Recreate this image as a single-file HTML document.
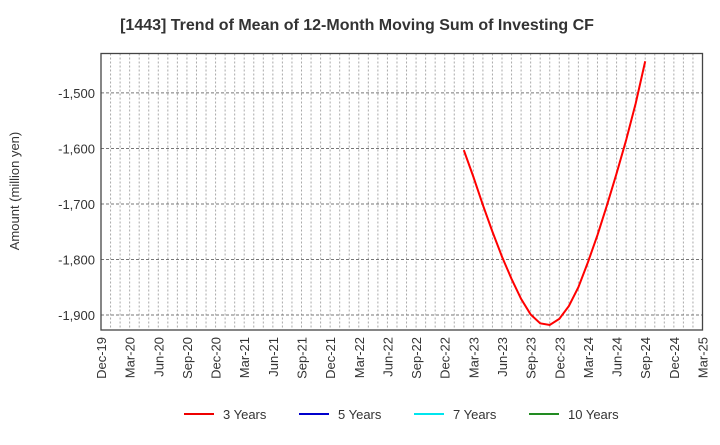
<!DOCTYPE html>
<html><head><meta charset="utf-8"><style>
body{margin:0;background:#fff;font-family:"Liberation Sans",sans-serif}
</style></head><body>
<svg id="chart" width="720" height="440" xmlns="http://www.w3.org/2000/svg" font-family="Liberation Sans, sans-serif">
<text x="357" y="30" text-anchor="middle" font-size="16" font-weight="bold" fill="#333">[1443]  Trend of Mean of 12-Month Moving Sum of Investing CF</text>
<text transform="translate(19,191) rotate(-90)" text-anchor="middle" font-size="13" fill="#333">Amount (million yen)</text>
<g id="grid"></g>
<g id="yticks"></g>
<g id="xticks"></g>
<rect x="101" y="53.5" width="601.5" height="276.5" fill="none" stroke="#444" stroke-width="1.3"/>
<g id="series"></g>
<g font-size="13" fill="#333">
<line x1="184" y1="414" x2="214" y2="414" stroke="#e00" stroke-width="2"/><text x="223" y="419">3 Years</text>
<line x1="299" y1="414" x2="329" y2="414" stroke="#0000cc" stroke-width="2"/><text x="338" y="419">5 Years</text>
<line x1="414" y1="414" x2="444" y2="414" stroke="#00e5ee" stroke-width="2"/><text x="453" y="419">7 Years</text>
<line x1="529" y1="414" x2="559" y2="414" stroke="#228b22" stroke-width="2"/><text x="568" y="419">10 Years</text>
</g>
</svg>
<script>
const xLabels=["Dec-19","Mar-20","Jun-20","Sep-20","Dec-20","Mar-21","Jun-21","Sep-21","Dec-21","Mar-22","Jun-22","Sep-22","Dec-22","Mar-23","Jun-23","Sep-23","Dec-23","Mar-24","Jun-24","Sep-24","Dec-24","Mar-25"];
const yTicks=[-1500,-1600,-1700,-1800,-1900];
const startMonth=38; // Feb-23, months after Dec-19
const values3=[-1603,-1651,-1702,-1750,-1795,-1835,-1871,-1899,-1915,-1918,-1907,-1884,-1850,-1805,-1756,-1702,-1645,-1585,-1519,-1443];
const NS="http://www.w3.org/2000/svg";
const X0=101,X1=702.5,Y0=53.5,Y1=330,YMAX=-1429,YMIN=-1927,MONTHS=63;
const xs=m=>X0+(X1-X0)*m/MONTHS;
const ys=v=>Y0+(YMAX-v)/(YMAX-YMIN)*(Y1-Y0);
function mk(t,a,p){const e=document.createElementNS(NS,t);for(const k in a)e.setAttribute(k,a[k]);p.appendChild(e);return e;}
const grid=document.getElementById('grid');
for(let m=1;m<MONTHS;m++){
 const l=mk('line',{x1:xs(m),x2:xs(m),y1:Y0,y2:Y1,stroke:'#aaa','stroke-dasharray':'2,2','stroke-width':1},grid);
 
 
}
const yt=document.getElementById('yticks');
yTicks.forEach(v=>{
 const l=mk('line',{x1:X0,x2:X1,y1:ys(v),y2:ys(v),stroke:'#777','stroke-dasharray':'3,2','stroke-width':1},grid);
 
 
 const t=mk('text',{x:X0-6,y:ys(v)+5,'text-anchor':'end','font-size':13,fill:'#333'},yt);
 
 
 t.textContent=v.toLocaleString('en-US');
});
const xt=document.getElementById('xticks');
xLabels.forEach((s,i)=>{
 const x=xs(i*3);
 const t=mk('text',{transform:`translate(${x+5},337) rotate(-90)`,'text-anchor':'end','font-size':13,fill:'#333'},xt);
 
 
 t.textContent=s;
});
const ser=document.getElementById('series');
const pts=values3.map((v,i)=>xs(startMonth+i)+','+ys(v)).join(' ');
const pl=mk('polyline',{points:pts,fill:'none',stroke:'#f00','stroke-width':2},ser);


</script>
</body></html>
